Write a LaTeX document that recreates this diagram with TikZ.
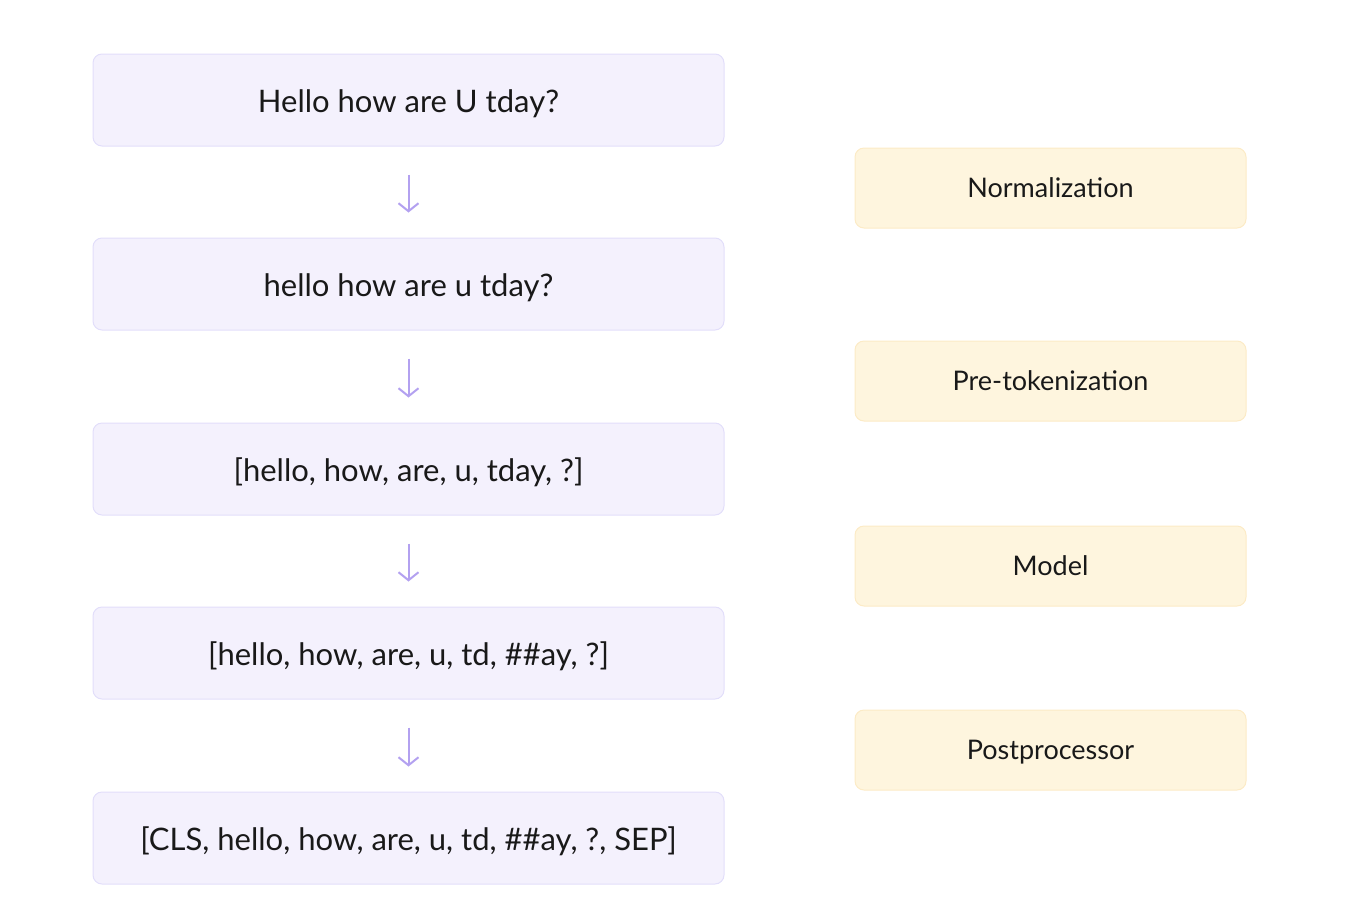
\documentclass[tikz,border=0pt]{standalone}
\usepackage{fontspec}
\setmainfont{Lato}
\usetikzlibrary{arrows.meta}
\definecolor{lfill}{HTML}{F4F1FD}
\definecolor{ldraw}{HTML}{E2DEFA}
\definecolor{rfill}{HTML}{FEF5DE}
\definecolor{rdraw}{HTML}{FCEBC6}
\definecolor{arr}{HTML}{B3A1F0}
\tikzset{
  x=1pt, y=-1pt,
  leftbox/.style={draw=ldraw, fill=lfill, rounded corners=9pt, line width=1pt, minimum width=631pt, minimum height=92pt, inner sep=0pt, text height=24pt, text depth=0pt, font=\fontsize{31}{35}\selectfont, text=black!90},
  rightbox/.style={draw=rdraw, fill=rfill, rounded corners=9pt, line width=1pt, minimum width=391pt, minimum height=80pt, inner sep=0pt, text height=18pt, text depth=0pt, font=\fontsize{27}{31}\selectfont, text=black!90},
  flow/.style={draw=arr, line width=2pt, -{Straight Barb[length=8pt,width=20pt,line width=2pt]}}
}
\begin{document}
\begin{tikzpicture}
\useasboundingbox (0,0) rectangle (1359,919);
\node[leftbox] (a) at (408.5,100) {Hello how are U tday?};
\node[leftbox] (b) at (408.5,284) {hello how are u tday?};
\node[leftbox] (c) at (408.5,469) {[hello, how, are, u, tday, ?]};
\node[leftbox] (d) at (408.5,653) {[hello, how, are, u, td, \#\#ay, ?]};
\node[leftbox] (e) at (408.5,838) {[CLS, hello, how, are, u, td, \#\#ay, ?, SEP]};
\node[rightbox] (n) at (1050.5,188) {Normalization};
\node[rightbox] (p) at (1050.5,381) {Pre-tokenization};
\node[rightbox] (m) at (1050.5,566) {Model};
\node[rightbox] (q) at (1050.5,750) {Postprocessor};
\draw[flow] ([yshift=-28pt]a.south) -- ([yshift=25pt]b.north);
\draw[flow] ([yshift=-28pt]b.south) -- ([yshift=25pt]c.north);
\draw[flow] ([yshift=-28pt]c.south) -- ([yshift=25pt]d.north);
\draw[flow] ([yshift=-28pt]d.south) -- ([yshift=25pt]e.north);
\end{tikzpicture}
\end{document}
